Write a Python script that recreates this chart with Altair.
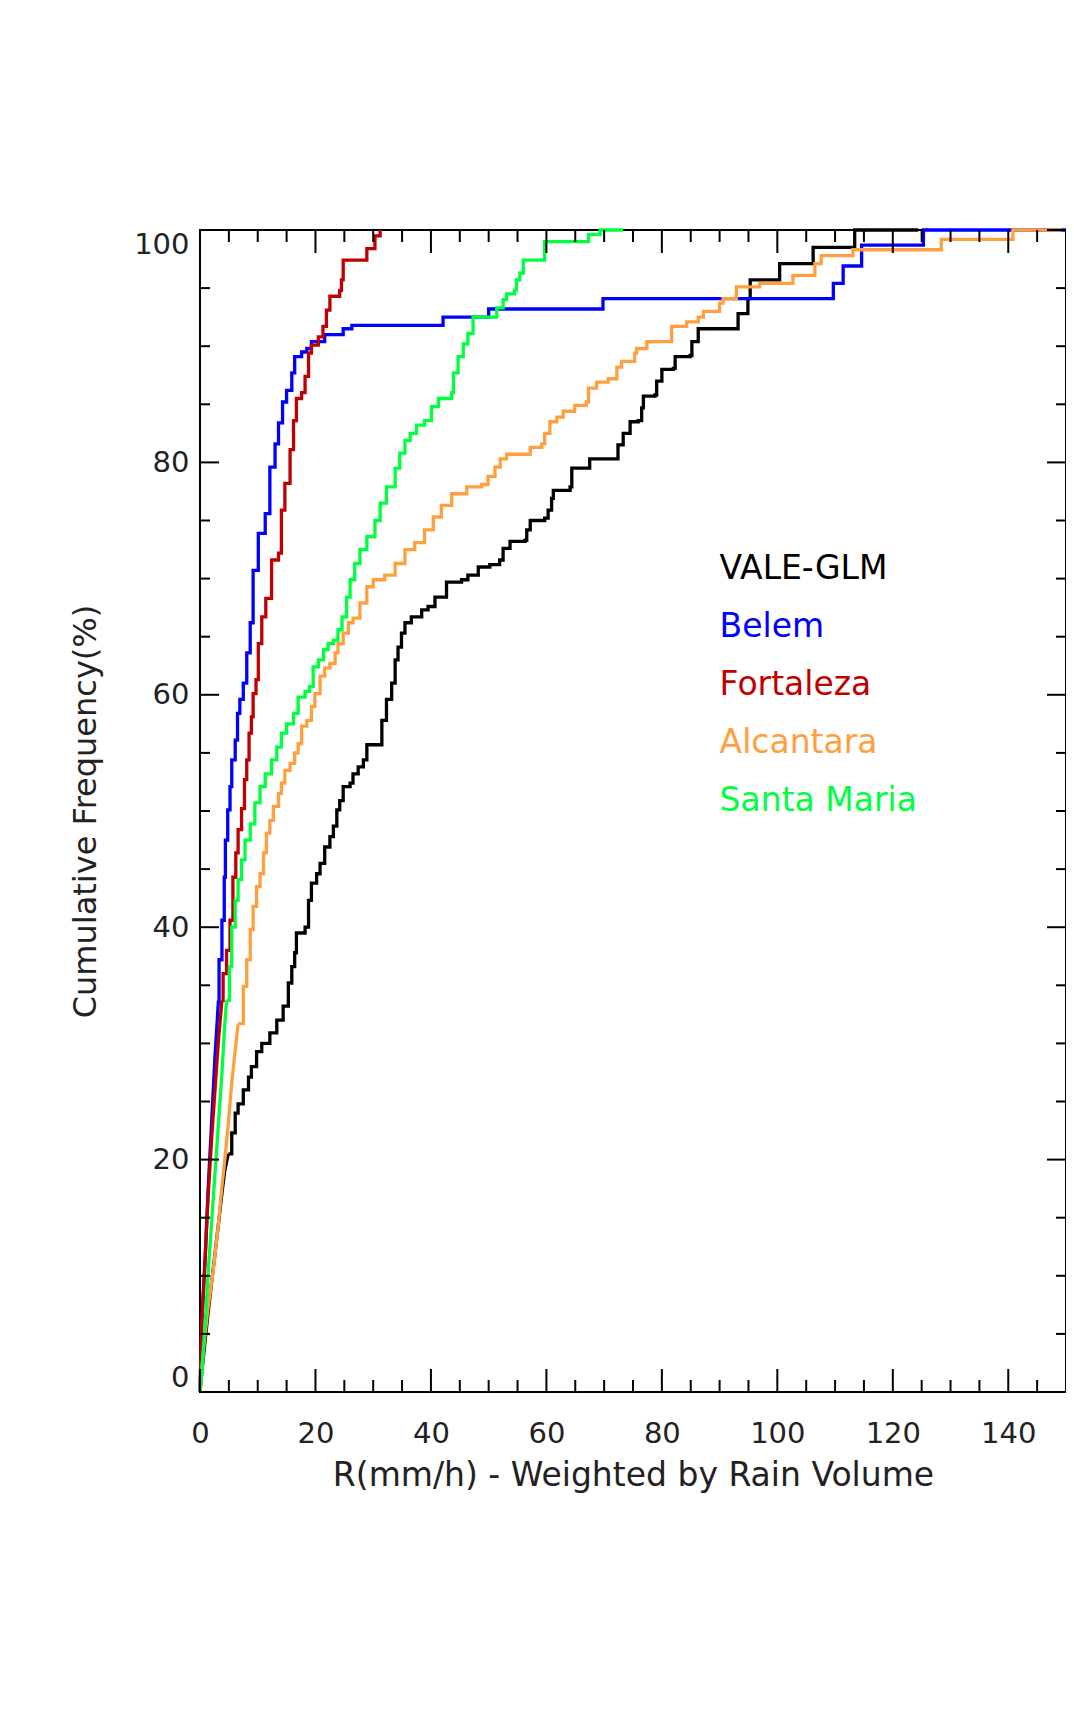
import altair as alt
import pandas as pd

# ---------------- data ----------------
series_names = ["VALE-GLM", "Belem", "Fortaleza", "Alcantara", "Santa Maria"]
series_colors = ["#000000", "#0000ff", "#c00000", "#ffa040", "#00ff40"]

vale_x = [0, 0.3, 0.9, 1.4, 2.0, 2.6, 3.2, 3.8, 4.3, 4.9, 5.5, 6.1, 6.6, 7.5, 8.4, 8.9, 9.8, 10.7, 12.1, 13.3,
          14.4, 15.3, 15.9, 16.4, 16.7, 18.2, 18.8, 19.3, 20.2, 20.8, 21.6, 22.5, 23.1, 23.7, 24.2, 24.8, 26.0,
          26.5, 27.4, 28.3, 28.9, 31.5, 32.3, 33.2, 33.8, 34.3, 34.9, 35.5, 36.6, 38.4, 39.5, 40.7, 42.7, 45.3,
          46.4, 48.2, 50.2, 51.9, 52.5, 53.7, 56.3, 56.6, 57.2, 59.7, 60.3, 60.9, 61.2, 64.1, 64.4, 67.5, 72.4,
          73.3, 74.5, 75.9, 76.5, 76.8, 78.8, 79.1, 80.0, 82.0, 82.3, 84.9, 85.2, 86.3, 93.2, 94.9, 95.3, 100.4,
          106.2, 113.4, 124.4]
vale_y = [0, 1.6, 4.5, 6.8, 9.4, 11.9, 14.5, 17.1, 19.1, 20.5, 22.3, 24.0, 24.8, 26.0, 27.1, 28.0, 29.3, 30.0, 30.9, 32.0,
          33.2, 35.2, 36.6, 37.8, 39.5, 40.0, 42.3, 43.8, 44.6, 45.5, 46.9, 47.8, 48.7, 50.1, 50.9, 52.1, 52.4,
          53.2, 53.8, 54.4, 55.7, 57.8, 59.6, 61.0, 63.0, 64.1, 65.3, 66.2, 66.7, 67.3, 67.6, 68.4, 69.7, 69.9,
          70.3, 71.0, 71.2, 71.6, 72.6, 73.2, 73.3, 74.2, 75.0, 75.2, 75.9, 76.9, 77.6, 77.9, 79.5, 80.3, 81.5,
          82.5, 83.5, 83.6, 84.7, 85.7, 85.8, 87.0, 88.0, 88.1, 89.1, 89.2, 90.4, 91.5, 92.8, 94.1, 95.7, 97.1,
          98.5, 100, 100]

belem_x = [0, 0.3, 0.9, 1.4, 2.0, 2.6, 3.2, 3.3, 3.8, 4.2, 4.4, 4.8, 5.2, 5.5, 6.1, 6.5, 6.9, 7.5, 8.1, 8.7,
           9.2, 10.1, 11.3, 12.1, 13.0, 13.6, 14.3, 15.0, 15.9, 16.4, 17.6, 18.5, 19.3, 21.6, 24.8, 26.3, 42.1,
           50.0, 69.8, 109.7, 111.4, 114.6, 125.3, 150]
belem_y = [0, 5.9, 11.6, 17.4, 23.1, 28.9, 33.7, 37.2, 40.6, 44.3, 47.5, 50.1, 52.1, 54.4, 56.1, 58.4, 59.6, 61.0, 63.6, 66.2,
           70.7, 73.9, 75.6, 79.6, 81.6, 83.4, 85.2, 86.2, 87.7, 89.1, 89.5, 89.8, 90.4, 91.0, 91.5, 91.8, 92.5,
           93.2, 94.1, 95.4, 96.9, 98.7, 100, 100]

forta_x = [0, 0.3, 0.9, 1.4, 2.0, 2.6, 3.2, 3.8, 4.0, 4.6, 5.2, 5.7, 6.2, 6.6, 7.2, 7.7, 8.1, 8.5, 8.9, 9.2,
           9.7, 10.1, 10.7, 11.4, 12.4, 13.6, 14.1, 14.7, 15.6, 16.2, 16.7, 17.6, 18.2, 18.8, 19.3, 20.5, 21.3,
           21.9, 22.5, 24.2, 24.5, 24.8, 28.9, 30.3, 31.2]
forta_y = [0, 5.9, 11.6, 16.8, 21.7, 26.0, 30.3, 33.7, 36.0, 38.0, 40.6, 44.3, 46.4, 48.4, 50.2, 52.7, 54.4, 56.7, 58.1, 60.1,
           61.3, 64.4, 66.7, 68.3, 71.6, 72.2, 75.9, 78.2, 81.1, 83.6, 85.5, 86.0, 87.4, 89.4, 90.1, 90.8, 91.7,
           93.1, 94.3, 94.8, 95.7, 97.4, 98.4, 99.5, 100]

alca_x = [0, 0.6, 1.4, 2.3, 3.2, 3.8, 4.3, 4.9, 5.5, 6.1, 6.6, 7.5, 8.1, 8.7, 9.2, 9.8, 10.4, 11.0, 11.5, 12.1,
          12.7, 13.6, 14.1, 14.7, 15.6, 16.4, 17.0, 17.6, 18.5, 19.3, 19.9, 20.8, 21.6, 22.5, 23.4, 23.9, 24.8,
          25.7, 26.5, 27.7, 28.9, 30.0, 32.0, 33.8, 35.5, 37.2, 38.9, 40.4, 41.8, 43.6, 46.2, 48.8, 49.9, 51.1,
          52.0, 53.1, 57.2, 59.2, 59.7, 60.6, 61.8, 62.9, 64.9, 66.9, 67.3, 68.7, 70.7, 72.2, 73.0, 75.3, 75.6,
          77.4, 81.7, 84.3, 86.3, 87.2, 90.0, 90.6, 92.9, 96.9, 102.7, 106.5, 107.6, 113.1, 128.4, 140.8, 149.2]
alca_y = [0, 3.6, 7.3, 10.5, 14.5, 17.7, 20.0, 23.1, 26.6, 29.4, 31.7, 34.9, 37.2, 39.8, 41.8, 43.5, 44.6, 46.4, 48.1, 49.2,
          50.4, 51.5, 52.4, 53.5, 54.1, 55.0, 55.8, 57.3, 57.8, 59.0, 60.1, 61.6, 62.3, 62.7, 63.6, 64.4, 65.3,
          66.2, 66.6, 67.9, 69.3, 69.9, 70.3, 71.3, 72.5, 73.1, 74.2, 75.3, 76.3, 77.3, 77.9, 78.1, 78.8, 79.6,
          80.3, 80.7, 81.3, 81.6, 82.5, 83.5, 83.9, 84.4, 84.9, 85.2, 86.4, 86.9, 87.2, 88.2, 88.7, 89.4, 89.8,
          90.4, 91.7, 92.1, 92.5, 93.0, 93.7, 94.1, 95.1, 95.4, 96.1, 97.1, 97.8, 98.3, 99.2, 100, 100]

santa_x = [0, 0.3, 0.9, 1.4, 2.0, 2.6, 3.2, 3.8, 4.3, 4.6, 5.1, 5.5, 6.1, 6.6, 7.2, 7.8, 8.7, 9.5, 10.4, 11.3,
           12.4, 13.3, 14.1, 15.0, 16.2, 17.0, 18.2, 19.0, 19.6, 20.5, 21.4, 22.2, 23.1, 23.9, 24.6, 25.4, 26.0,
           26.8, 27.7, 28.9, 30.3, 31.2, 32.3, 33.8, 34.6, 35.5, 36.4, 37.5, 38.9, 40.1, 41.3, 43.6, 43.9, 44.7,
           45.6, 46.4, 47.3, 51.4, 52.5, 53.1, 54.5, 54.8, 55.4, 56.0, 59.7, 67.3, 69.3, 73.3]
santa_y = [0, 1.6, 5.9, 10.2, 14.5, 18.8, 23.1, 27.4, 31.7, 33.7, 36.6, 40.0, 42.3, 44.1, 45.8, 47.5, 48.9, 50.7, 52.1, 53.2,
           54.4, 55.5, 56.7, 57.5, 58.4, 59.8, 60.3, 60.7, 62.4, 63.0, 63.9, 64.4, 64.7, 65.6, 66.7, 68.4, 69.9,
           71.3, 72.5, 73.6, 75.0, 76.5, 77.9, 79.5, 80.8, 81.9, 82.5, 83.2, 83.6, 84.8, 85.5, 86.0, 87.7, 89.1,
           90.2, 91.1, 92.5, 93.3, 94.0, 94.5, 94.8, 95.7, 96.3, 97.4, 99.0, 99.6, 100, 100]

x_major = [0, 20, 40, 60, 80, 100, 120, 140]
x_minor = [v for v in range(0, 151, 5) if v % 20 != 0]
y_major = [0, 20, 40, 60, 80, 100]
y_minor = [v for v in range(0, 101, 5) if v % 20 != 0]

# ---------------- styling ----------------
# below this level the very fine steps read as a straight line: draw linearly
linear_below = {"VALE-GLM": 21, "Belem": 34, "Fortaleza": 34, "Alcantara": 34, "Santa Maria": 34}

# ---------------- build tables ----------------
xs_all = [vale_x, belem_x, forta_x, alca_x, santa_x]
ys_all = [vale_y, belem_y, forta_y, alca_y, santa_y]
rows = []
for name, xs, ys in zip(series_names, xs_all, ys_all):
    lim = linear_below[name]
    k = max(i for i, yv in enumerate(ys) if yv <= lim)
    for i, (xv, yv) in enumerate(zip(xs, ys)):
        if i <= k:
            rows.append({"series": name, "x": xv, "y": yv, "order": i, "part": "lin"})
        if i >= k:
            rows.append({"series": name, "x": xv, "y": yv, "order": i, "part": "step"})
df = pd.DataFrame(rows)

legend_df = pd.DataFrame({
    "series": series_names,
    "x": [90] * len(series_names),
    "y": [70 - 5 * i for i in range(len(series_names))],
})

W, H = 866, 1162
FONT = "DejaVu Sans"
TXT = "#222222"

xscale = alt.Scale(domain=[0, 150], nice=False, zero=False)
yscale = alt.Scale(domain=[0, 100], nice=False, zero=False)
cscale = alt.Scale(domain=series_names, range=series_colors)

xaxis = alt.Axis(values=x_major, title="R(mm/h) - Weighted by Rain Volume", ticks=False, tickSize=0,
                 domain=False, grid=False, labelFlush=False, labelOverlap=False,
                 labelFont=FONT, labelFontSize=29, labelColor=TXT, labelPadding=27,
                 titleFont=FONT, titleFontSize=33, titleFontWeight="normal", titleColor=TXT,
                 titlePadding=11)
yaxis = alt.Axis(values=y_major, title="Cumulative Frequency(%)", ticks=False, tickSize=0,
                 domain=False, grid=False, labelFlush=True, labelOverlap=False,
                 labelFont=FONT, labelFontSize=29, labelColor=TXT, labelPadding=11,
                 titleFont=FONT, titleFontSize=32, titleFontWeight="normal", titleColor=TXT,
                 titlePadding=31)


def X(field="x"):
    return alt.X(f"{field}:Q", scale=xscale, axis=xaxis)


def Y(field="y"):
    return alt.Y(f"{field}:Q", scale=yscale, axis=yaxis)


base = alt.Chart(df).encode(
    x=X(), y=Y(),
    color=alt.Color("series:N", scale=cscale, legend=None),
    order="order:Q",
)
lines_lin = base.transform_filter(alt.datum.part == "lin").mark_line(
    interpolate="linear", strokeWidth=3.3)
lines_step = base.transform_filter(alt.datum.part == "step").mark_line(
    interpolate="step-after", strokeWidth=3.3)

xmaj = pd.DataFrame({"v": x_major})
xmin = pd.DataFrame({"v": x_minor})
ymaj = pd.DataFrame({"v": y_major})
ymin = pd.DataFrame({"v": y_minor})

tick_style = dict(color="black", strokeWidth=2)
layers = [lines_lin, lines_step]
for tdf, ln in ((xmaj, 23), (xmin, 12)):
    layers.append(alt.Chart(tdf).mark_rule(**tick_style).encode(
        x=X("v"), y=alt.value(H), y2=alt.value(H - ln)))
    layers.append(alt.Chart(tdf).mark_rule(**tick_style).encode(
        x=X("v"), y=alt.value(0), y2=alt.value(ln)))
for tdf, ln in ((ymaj, 19), (ymin, 10)):
    layers.append(alt.Chart(tdf).mark_rule(**tick_style).encode(
        y=Y("v"), x=alt.value(0), x2=alt.value(ln)))
    layers.append(alt.Chart(tdf).mark_rule(**tick_style).encode(
        y=Y("v"), x=alt.value(W), x2=alt.value(W - ln)))

legend_text = alt.Chart(legend_df).mark_text(
    align="left", baseline="alphabetic", font=FONT, fontSize=33
).encode(
    x=X(), y=Y(), text="series:N",
    color=alt.Color("series:N", scale=cscale, legend=None),
)
layers.append(legend_text)

chart = alt.layer(*layers).properties(
    width=W, height=H,
    autosize=alt.AutoSizeParams(type="none"),
    padding={"left": 192, "top": 222, "right": 0, "bottom": 300},
    background="white",
).configure_view(stroke="black", strokeWidth=2)

chart.save("out.html", embed_options={"renderer": "svg", "actions": False})
